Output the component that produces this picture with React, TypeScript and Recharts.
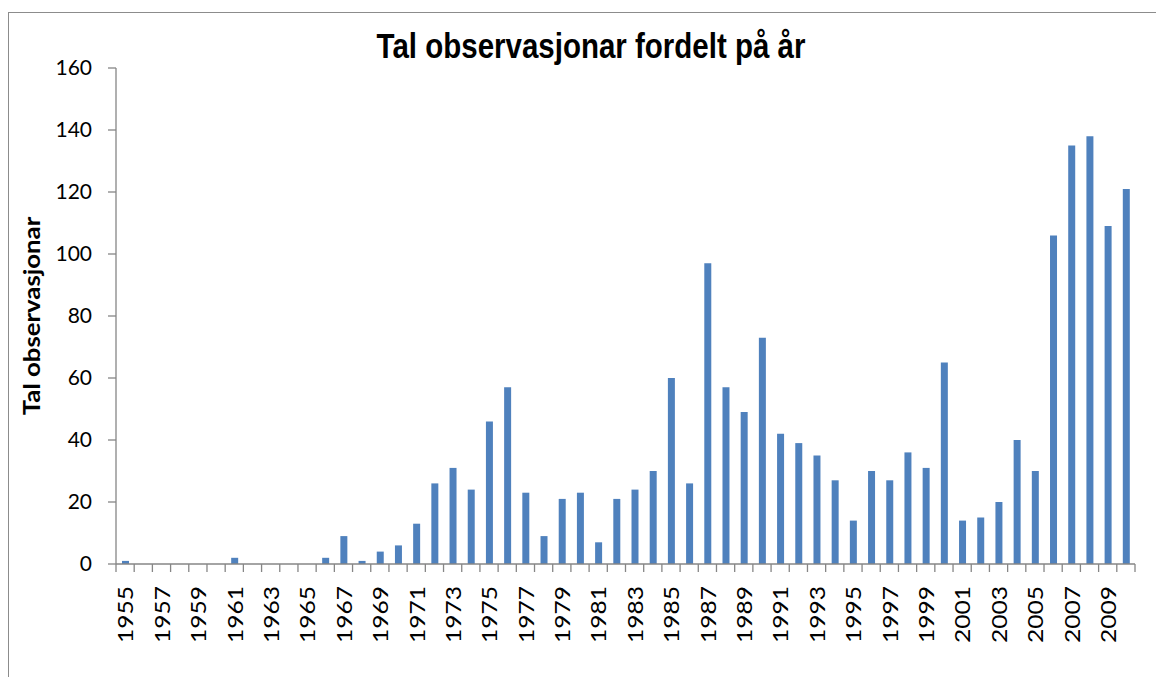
import React from "react";
import { BarChart, Bar, XAxis, YAxis } from "recharts";

const years = [
  1955, 1956, 1957, 1958, 1959, 1960, 1961, 1962, 1963, 1964, 1965, 1966,
  1967, 1968, 1969, 1970, 1971, 1972, 1973, 1974, 1975, 1976, 1977, 1978,
  1979, 1980, 1981, 1982, 1983, 1984, 1985, 1986, 1987, 1988, 1989, 1990,
  1991, 1992, 1993, 1994, 1995, 1996, 1997, 1998, 1999, 2000, 2001, 2002,
  2003, 2004, 2005, 2006, 2007, 2008, 2009, 2010,
];

const counts = [
  1, 0, 0, 0, 0, 0, 2, 0, 0, 0, 0, 2,
  9, 1, 4, 6, 13, 26, 31, 24, 46, 57, 23, 9,
  21, 23, 7, 21, 24, 30, 60, 26, 97, 57, 49, 73,
  42, 39, 35, 27, 14, 30, 27, 36, 31, 65, 14, 15,
  20, 40, 30, 106, 135, 138, 109, 121,
];

const yTicks = [0, 20, 40, 60, 80, 100, 120, 140, 160];

const data = years.map((year, i) => ({ year: String(year), value: counts[i] }));

const WIDTH = 1156;
const HEIGHT = 677;
const PLOT_LEFT = 116;
const PLOT_RIGHT = 1135;
const BAND = (PLOT_RIGHT - PLOT_LEFT) / years.length;
const AXIS_COLOR = "#868686";
// the source picture is slightly stretched vertically
const STRETCH = 1.17;

const YearTick = (props: any) => {
  const { x, y, payload, index } = props;
  const left = x - BAND / 2;
  const ty = y + 22;
  return (
    <g>
      <line x1={left} y1={y} x2={left} y2={y + 8} stroke={AXIS_COLOR} strokeWidth={1.3} />
      {index === years.length - 1 && (
        <line x1={left + BAND} y1={y} x2={left + BAND} y2={y + 8} stroke={AXIS_COLOR} strokeWidth={1.3} />
      )}
      {index % 2 === 0 && (
        <text
          x={0}
          y={0}
          transform={`translate(${x} ${ty}) scale(1 ${STRETCH}) rotate(-90)`}
          textAnchor="end"
          dominantBaseline="central"
          fontFamily="Lato, sans-serif"
          fontSize={21}
          fill="#000"
        >
          {payload.value}
        </text>
      )}
    </g>
  );
};

const App = () => {
  return (
    <div
      style={{
        position: "fixed",
        left: 0,
        top: 0,
        width: WIDTH,
        height: HEIGHT,
        background: "#fff",
        overflow: "hidden",
      }}
    >
      <div
        style={{
          position: "absolute",
          left: 8,
          top: 12,
          width: WIDTH,
          height: HEIGHT,
          borderLeft: "1.5px solid #8c8c8c",
          borderTop: "1.5px solid #8c8c8c",
        }}
      />
      <svg
        width={WIDTH}
        height={90}
        style={{ position: "absolute", left: 0, top: 0 }}
      >
        <text
          x={0}
          y={0}
          transform={`translate(591 58) scale(1 ${STRETCH})`}
          textAnchor="middle"
          fontFamily="'Liberation Sans', Arial, sans-serif"
          fontWeight="bold"
          fontSize={29.5}
          fill="#000"
        >
          Tal observasjonar fordelt på år
        </text>
      </svg>
      <div style={{ position: "absolute", left: 0, top: 0 }}>
        <BarChart
          width={WIDTH}
          height={HEIGHT}
          data={data}
          margin={{ top: 68, right: WIDTH - PLOT_RIGHT, bottom: 13, left: 0 }}
        >
          <XAxis
            dataKey="year"
            interval={0}
            tickLine={false}
            tickSize={0}
            tickMargin={0}
            height={100}
            stroke={AXIS_COLOR}
            strokeWidth={1.3}
            tick={<YearTick />}
          />
          <YAxis
            width={PLOT_LEFT}
            domain={[0, 160]}
            ticks={yTicks}
            interval={0}
            tickSize={8}
            tickMargin={16}
            stroke={AXIS_COLOR}
            strokeWidth={1.3}
            tick={{ fill: "#000", fontFamily: "Lato, sans-serif", fontSize: 21 }}
            label={{
              content: (p: any) => {
                const vb = p.viewBox;
                const cx = 31;
                const cy = vb.y + vb.height / 2;
                return (
                  <text
                    x={0}
                    y={0}
                    transform={`translate(${cx} ${cy}) scale(1 ${STRETCH}) rotate(-90)`}
                    textAnchor="middle"
                    dominantBaseline="central"
                    fontFamily="Lato, sans-serif"
                    fontWeight="bold"
                    fontSize={22}
                    fill="#000"
                  >
                    Tal observasjonar
                  </text>
                );
              },
            }}
          />
          <Bar dataKey="value" fill="#4F81BD" barSize={7} isAnimationActive={false} />
        </BarChart>
      </div>
    </div>
  );
};

export default App;
